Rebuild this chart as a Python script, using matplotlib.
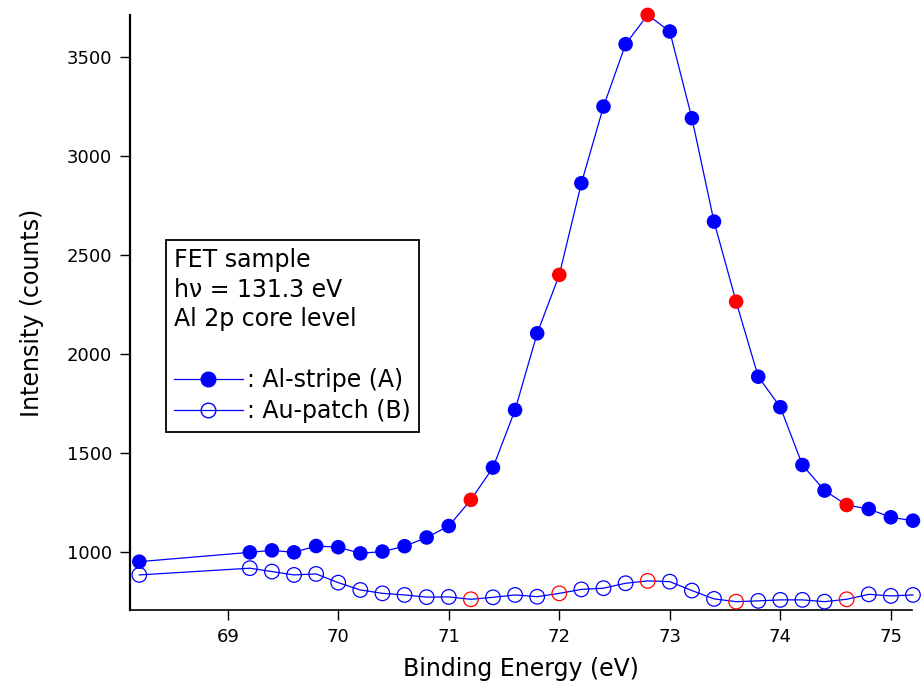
import matplotlib.pyplot as plt
from matplotlib.lines import Line2D
import numpy as np

# Al 2p core-level spectra, FET sample, hv = 131.3 eV
energy = [68.2, 69.2, 69.4, 69.6, 69.8, 70.0, 70.2, 70.4, 70.6, 70.8,
          71.0, 71.2, 71.4, 71.6, 71.8, 72.0, 72.2, 72.4, 72.6, 72.8,
          73.0, 73.2, 73.4, 73.6, 73.8, 74.0, 74.2, 74.4, 74.6, 74.8,
          75.0, 75.2]
al_stripe = [951, 998, 1008, 998, 1030, 1024, 993, 1002, 1029, 1073,
             1131, 1263, 1426, 1717, 2104, 2399, 2862, 3249, 3564, 3712,
             3628, 3190, 2668, 2264, 1885, 1731, 1439, 1310, 1237, 1217,
             1175, 1158]
au_patch = [884, 918, 901, 884, 889, 845, 808, 791, 783, 772,
            773, 761, 771, 783, 774, 791, 811, 817, 842, 854,
            850, 805, 763, 749, 753, 758, 758, 749, 761, 786,
            778, 783]
# energies picked out in red
marked = [71.2, 72.0, 72.8, 73.6, 74.6]

blue = '#0000ff'
red = '#ff0000'
cols = [red if np.isclose(e, marked).any() else blue for e in energy]

plt.rcParams['font.family'] = 'DejaVu Sans'
fig = plt.figure(figsize=(9.22, 6.88), dpi=100)
ax = fig.add_axes([0.141, 0.1134, 0.848, 0.865])

ax.plot(energy, al_stripe, color=blue, lw=0.9, zorder=2, clip_on=False)
ax.scatter(energy, al_stripe, s=110, c=cols, zorder=3, clip_on=False, linewidths=0)
ax.plot(energy, au_patch, color=blue, lw=0.9, zorder=2, clip_on=False)
ax.scatter(energy, au_patch, s=110, facecolors='none', edgecolors=cols,
           linewidths=0.9, zorder=3, clip_on=False)

ax.set_xlim(68.116, 75.19)
ax.set_ylim(707, 3712)
ax.set_xticks([69, 70, 71, 72, 73, 74, 75])
ax.set_yticks([1000, 1500, 2000, 2500, 3000, 3500])
ax.spines['top'].set_visible(False)
ax.spines['right'].set_visible(False)
ax.spines['left'].set_linewidth(1.6)
ax.spines['bottom'].set_linewidth(1.2)
ax.tick_params(direction='out', length=7, width=1, labelsize=13, pad=6)

ax.set_xlabel('Binding Energy (eV)', fontsize=17, labelpad=8)
ax.set_ylabel('Intensity (counts)', fontsize=17, labelpad=16)

handles = [Line2D([], [], color=blue, lw=0.9, marker='o', ms=10.5, mfc=blue, mec=blue),
           Line2D([], [], color=blue, lw=0.9, marker='o', ms=10.5, mfc='none', mec=blue)]
leg = ax.legend(handles, [': Al-stripe (A)', ': Au-patch (B)'],
                title='FET sample\nhν = 131.3 eV\nAl 2p core level\n',
                alignment='left', title_fontsize=17, fontsize=17,
                loc='upper left', bbox_to_anchor=(0.046, 0.622),
                borderaxespad=0, fancybox=False, framealpha=1,
                edgecolor='black', handlelength=2.9, handletextpad=0.2,
                numpoints=1, labelspacing=0.3, borderpad=0.35)
leg.get_title().set_linespacing(1.3)
leg.get_frame().set_linewidth(1.3)

fig.savefig('out.png', dpi=100)
